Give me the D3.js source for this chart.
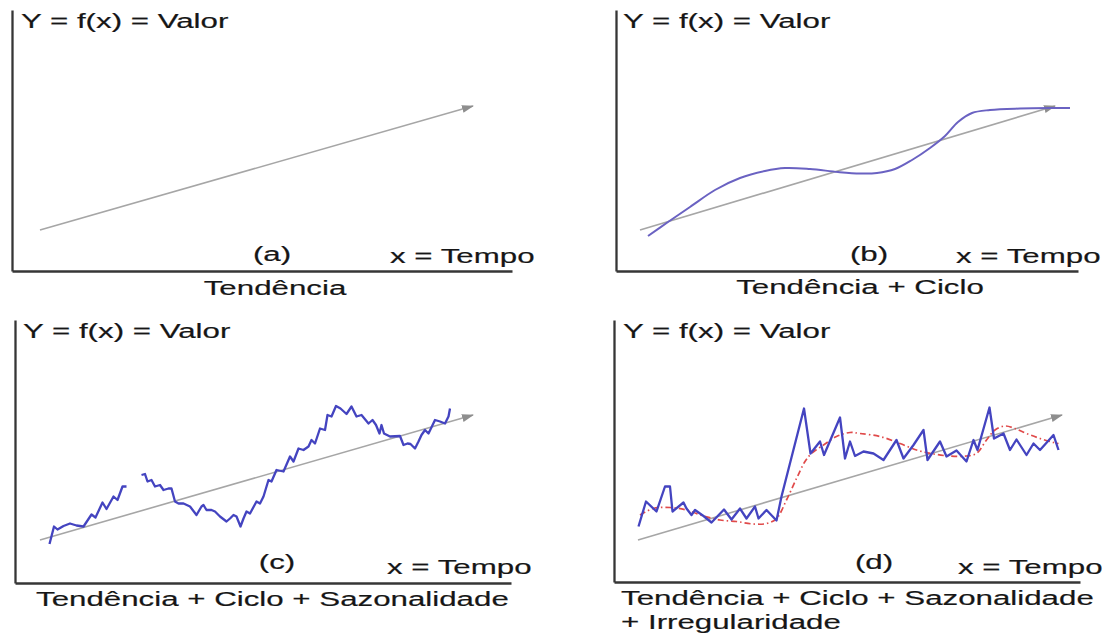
<!DOCTYPE html>
<html>
<head>
<meta charset="utf-8">
<script src="https://cdn.jsdelivr.net/npm/d3@7"></script>
<style>
  html, body { margin: 0; padding: 0; background: #ffffff; }
  svg { display: block; }
  .axis path { stroke: #363636; stroke-width: 2.3px; fill: none; }
  .lbl { font-family: "Liberation Sans", Arial, sans-serif; font-size: 21px; fill: #161616;
         stroke: #161616; stroke-width: 0.18px; }
</style>
</head>
<body>
<svg id="chart" width="1118" height="633"></svg>
<script>
// ---- text ----
const yAxisTitle = "Y = f(x) = Valor";
const xAxisTitle = "x = Tempo";
const panelLetters = ["(a)", "(b)", "(c)", "(d)"];
const panelCaptions = [
  ["Tendência"],
  ["Tendência + Ciclo"],
  ["Tendência + Ciclo + Sazonalidade"],
  ["Tendência + Ciclo + Sazonalidade", "+ Irregularidade"]
];

// ---- series: [tempo, valor] ----
const trendA = [[5.6, 8.2], [92.2, 33.0]];
const trendB = [[4.8, 8.2], [87.8, 33.0]];
const trendC = [[5.0, 8.6], [91.6, 33.6]];
const trendD = [[4.8, 8.4], [89.6, 33.4]];

// trend + cycle
const cycleB = [
  [6.4, 7.0], [10.4, 9.8], [14.8, 12.8], [19.8, 16.2], [24.8, 18.6], [29.8, 20.0],
  [33.8, 20.6], [38.8, 20.4], [44.4, 19.8], [48.8, 19.5], [52.2, 19.6], [55.8, 20.4],
  [59.2, 22.2], [62.8, 24.6], [65.8, 27.0], [68.4, 29.8], [71.2, 31.6], [74.8, 32.2],
  [80.8, 32.5], [86.8, 32.6], [90.8, 32.6]
];

// trend + cycle + seasonality (two segments, with a gap between them)
const seasonalC1 = [
  [6.9, 7.8], [7.8, 11.3], [8.5, 10.7], [9.7, 11.4], [11.0, 11.9], [12.3, 11.5],
  [13.7, 11.3], [15.3, 13.7], [16.1, 13.1], [17.5, 16.1], [18.3, 14.8], [19.7, 17.3],
  [20.5, 16.6], [21.5, 19.3], [22.3, 19.3]
];
const seasonalC2 = [
  [25.3, 21.6], [26.0, 21.8], [26.5, 20.3], [27.3, 20.6], [28.0, 19.3], [29.0, 19.6],
  [29.7, 18.6], [30.7, 18.9], [31.3, 18.9], [32.0, 16.3], [32.7, 15.9], [33.7, 15.9],
  [35.0, 15.3], [36.3, 13.6], [37.3, 15.3], [37.7, 15.6], [38.3, 14.6], [39.3, 14.6],
  [40.0, 14.3], [41.0, 13.3], [42.3, 12.3], [43.0, 12.9], [43.7, 13.6], [44.3, 13.3],
  [45.1, 11.3], [45.7, 12.9], [46.3, 14.3], [47.0, 13.9], [48.3, 16.3], [49.0, 15.9],
  [49.7, 17.3], [50.7, 20.6], [51.3, 20.3], [52.3, 22.6], [53.7, 22.3], [55.0, 25.3],
  [55.7, 24.3], [56.7, 26.9], [57.7, 26.6], [58.7, 27.3], [59.3, 28.6], [60.0, 27.9],
  [61.0, 30.9], [62.0, 30.6], [62.5, 33.6], [63.3, 33.3], [64.2, 35.4], [65.1, 34.9],
  [66.3, 33.8], [67.3, 35.3], [68.3, 33.3], [69.3, 33.6], [70.7, 31.9], [71.5, 32.6],
  [72.2, 31.6], [72.9, 29.9], [73.3, 31.6], [73.8, 29.9], [75.0, 29.3], [77.0, 29.4],
  [77.7, 27.6], [78.5, 27.9], [79.1, 27.8], [80.0, 26.9], [80.7, 28.3], [81.3, 29.6],
  [82.0, 30.6], [82.7, 29.9], [84.0, 32.6], [85.0, 32.3], [86.0, 31.9], [86.7, 33.3],
  [87.0, 34.9]
];

// trend + cycle + seasonality + irregularity
const irregularD = [
  [4.9, 11.1], [6.4, 16.1], [8.5, 14.1], [10.2, 19.1], [11.2, 19.1], [11.7, 14.1],
  [13.9, 15.9], [14.5, 14.7], [15.5, 13.4], [16.2, 14.4], [17.9, 13.2], [19.5, 11.9],
  [22.0, 14.5], [23.5, 12.5], [25.2, 14.7], [26.5, 12.7], [28.2, 15.1], [28.9, 12.7],
  [30.5, 14.4], [32.5, 12.3], [33.5, 17.1], [38.0, 34.7], [39.3, 25.7], [41.2, 28.1],
  [42.0, 25.4], [45.2, 32.9], [46.2, 24.7], [47.2, 28.1], [48.2, 25.2], [49.9, 26.1],
  [51.9, 25.7], [53.9, 24.4], [56.5, 28.4], [57.9, 24.7], [59.9, 27.4], [61.9, 30.4],
  [62.7, 24.4], [65.2, 28.1], [66.5, 25.1], [68.5, 26.3], [70.5, 24.1], [71.9, 28.4],
  [72.7, 26.4], [75.1, 34.9], [76.0, 28.7], [77.9, 29.7], [79.2, 26.4], [80.5, 28.5],
  [82.5, 25.4], [83.9, 27.7], [85.2, 26.4], [87.9, 29.4], [88.9, 26.4]
];
// smooth trend + cycle beneath the irregular series
const cycleD = [
  [5.2, 13.4], [7.9, 14.7], [11.2, 14.9], [14.5, 14.4], [17.9, 13.2], [21.2, 12.4],
  [24.5, 12.1], [27.9, 11.6], [30.5, 11.7], [32.5, 12.7], [34.5, 16.4], [36.5, 20.7],
  [38.2, 24.1], [39.5, 25.7], [41.9, 27.4], [44.5, 29.1], [47.2, 29.9], [49.2, 29.7],
  [53.2, 29.1], [57.2, 27.7], [60.5, 26.4], [63.9, 25.6], [67.2, 25.2], [70.5, 25.2],
  [72.5, 25.7], [74.5, 28.4], [76.2, 30.4], [78.2, 31.2], [80.2, 30.7], [82.5, 29.7],
  [85.2, 28.7], [87.9, 27.9], [88.9, 27.7]
];

// ---- layout ----
const UNIT = 5;          // pixels per unit on both axes
const TEXT_STRETCH = 1.49;
const CAPTION_LEADING = 23.5;
const frames = [
  { left: 12,  right: 512,  top: 10,  bottom: 271,
    title: [21, 28], letter: [272, 261], xlab: [390, 263], caption: [275, 295], capAnchor: "middle" },
  { left: 616, right: 1078, top: 10,  bottom: 271,
    title: [623, 28], letter: [869, 261], xlab: [956, 263], caption: [860, 294], capAnchor: "middle" },
  { left: 15,  right: 511,  top: 320, bottom: 583,
    title: [23, 338], letter: [277, 569], xlab: [387, 574], caption: [36, 606], capAnchor: "start" },
  { left: 614, right: 1080, top: 320, bottom: 582,
    title: [623, 338], letter: [874, 569], xlab: [958, 574], caption: [621, 605], capAnchor: "start" }
];

const svg = d3.select("#chart");

svg.append("defs").append("marker")
  .attr("id", "arrow")
  .attr("viewBox", "0 0 12 8")
  .attr("refX", 11).attr("refY", 4)
  .attr("markerWidth", 12).attr("markerHeight", 8)
  .attr("markerUnits", "userSpaceOnUse")
  .attr("orient", "auto")
  .append("path")
  .attr("d", "M0,0 L12,4 L0,8 Z")
  .attr("fill", "#8e8e8e");

function addText(g, xy, str, anchor) {
  g.append("text")
    .attr("class", "lbl")
    .attr("text-anchor", anchor || "start")
    .attr("transform", `translate(${xy[0]},${xy[1]}) scale(${TEXT_STRETCH},1)`)
    .text(str);
}

const trends = [trendA, trendB, trendC, trendD];

frames.forEach((f, i) => {
  const g = svg.append("g");
  const x = d3.scaleLinear().domain([0, (f.right - f.left) / UNIT]).range([f.left, f.right]);
  const y = d3.scaleLinear().domain([0, (f.bottom - f.top) / UNIT]).range([f.bottom, f.top]);
  f.x = x; f.y = y; f.g = g;

  // axes without ticks
  g.append("g").attr("class", "axis")
    .attr("transform", `translate(0,${f.bottom})`)
    .call(d3.axisBottom(x).tickValues([]).tickSizeOuter(0));
  g.append("g").attr("class", "axis")
    .attr("transform", `translate(${f.left},0)`)
    .call(d3.axisLeft(y).tickValues([]).tickSizeOuter(0));

  // trend arrow
  const line = d3.line().x(d => x(d[0])).y(d => y(d[1]));
  g.append("path")
    .attr("d", line(trends[i]))
    .attr("fill", "none")
    .attr("stroke", "#a6a6a6")
    .attr("stroke-width", 1.6)
    .attr("marker-end", "url(#arrow)");

  addText(g, f.title, yAxisTitle, "start");
  addText(g, f.letter, panelLetters[i], "middle");
  addText(g, f.xlab, xAxisTitle, "start");
  panelCaptions[i].forEach((c, k) => {
    addText(g, [f.caption[0], f.caption[1] + k * CAPTION_LEADING], c, f.capAnchor);
  });
});

// (b) smooth cycle
{
  const f = frames[1];
  const line = d3.line().x(d => f.x(d[0])).y(d => f.y(d[1])).curve(d3.curveCatmullRom);
  f.g.append("path").attr("d", line(cycleB))
    .attr("fill", "none").attr("stroke", "#6a62c2").attr("stroke-width", 2);
}

// (c) seasonal zig-zag
{
  const f = frames[2];
  const line = d3.line().x(d => f.x(d[0])).y(d => f.y(d[1]));
  [seasonalC1, seasonalC2].forEach(s => {
    f.g.append("path").attr("d", line(s))
      .attr("fill", "none").attr("stroke", "#4444c0").attr("stroke-width", 2.3)
      .attr("stroke-linejoin", "round");
  });
}

// (d) irregular series with its smooth cycle
{
  const f = frames[3];
  const smooth = d3.line().x(d => f.x(d[0])).y(d => f.y(d[1])).curve(d3.curveCatmullRom);
  const line = d3.line().x(d => f.x(d[0])).y(d => f.y(d[1]));
  f.g.append("path").attr("d", smooth(cycleD))
    .attr("fill", "none").attr("stroke", "#e04a4a").attr("stroke-width", 1.7)
    .attr("stroke-dasharray", "6,3,1.5,3");
  f.g.append("path").attr("d", line(irregularD))
    .attr("fill", "none").attr("stroke", "#4444c0").attr("stroke-width", 2.3)
    .attr("stroke-linejoin", "round");
}
</script>
</body>
</html>
